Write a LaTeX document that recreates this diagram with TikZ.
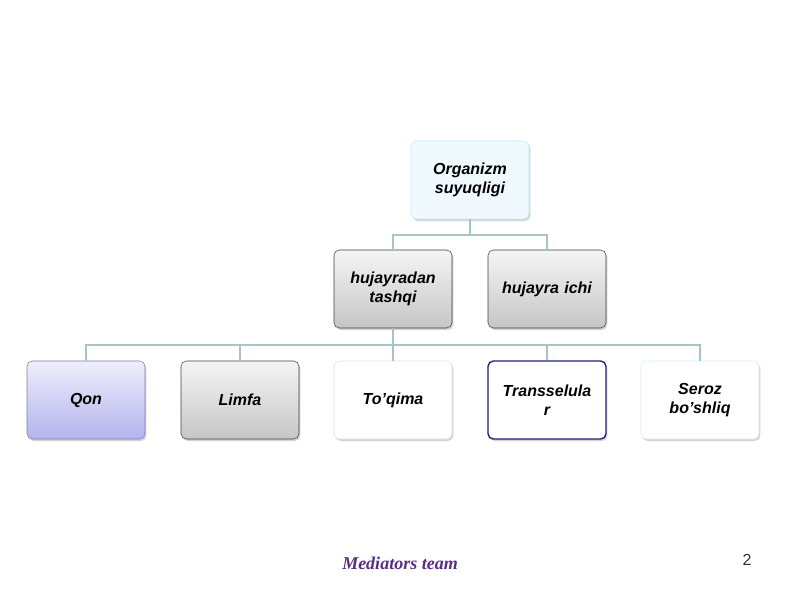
\documentclass[tikz,border=0pt]{standalone}
\usepackage{fontspec}
\setmainfont{Liberation Sans}
\usetikzlibrary{shadows}
\definecolor{linecol}{HTML}{A9C4C6}
\definecolor{lavtop}{HTML}{EEEEFC}
\definecolor{lavbot}{HTML}{B4B4EE}
\definecolor{navy}{HTML}{1E1E78}
\definecolor{teamcol}{HTML}{5B2C83}
\tikzset{
  box/.style={draw, rounded corners=4pt, minimum width=88.5pt, minimum height=58.5pt,
    text width=80pt, align=center, font=\bfseries\itshape\fontsize{12}{14}\selectfont,
    drop shadow={shadow xshift=1pt, shadow yshift=-1.5pt, opacity=0.35}},
  greybox/.style={box, draw=black!75, top color=gray!8, bottom color=gray!45},
  conn/.style={draw=linecol, line width=1pt}
}
\begin{document}
\begin{tikzpicture}[x=0.75pt,y=-0.75pt]
    \useasboundingbox (0,0) rectangle (800,600);
    % Top level
    \node[box, draw=cyan!25, fill=cyan!6] (organizm) at (470,180) {Organizm\\suyuqligi};
    % Middle level
    \node[greybox] (tashqi) at (393,289) {hujayradan\\tashqi};
    \node[greybox] (ichi) at (547,289) {hujayra ichi};
    % Bottom level
    \node[box, draw=lavbot!70!black, top color=lavtop, bottom color=lavbot] (qon) at (86,400) {Qon};
    \node[greybox] (limfa) at (240,400) {Limfa};
    \node[box, draw=gray!25, fill=white] (toqima) at (393,400) {To'qima};
    \node[box, draw=navy, line width=1pt, fill=white] (trans) at (547,400) {Transselula\\r};
    \node[box, draw=cyan!20, fill=white] (seroz) at (700,400) {Seroz\\bo'shliq};
    % Connectors
    \coordinate (top bar) at (470,235);
    \coordinate (low bar) at (393,345);
    \draw[conn] (organizm.south) -- (top bar);
    \draw[conn] (tashqi.north) |- (top bar) -| (ichi.north);
    \draw[conn] (tashqi.south) -- (low bar);
    \draw[conn] (qon.north) |- (low bar) -| (seroz.north);
    \draw[conn] (limfa.north) -- (limfa.north |- low bar);
    \draw[conn] (toqima.north) -- (low bar);
    \draw[conn] (trans.north) -- (trans.north |- low bar);
    % Footer
    \node[font=\fontspec{Liberation Serif}\bfseries\itshape\fontsize{13.5}{15}\selectfont, text=teamcol] (team) at (400,563) {Mediators team};
    \node[font=\fontsize{12}{14}\selectfont, text=black!80] (page) at (747,560) {2};
\end{tikzpicture}
\end{document}
